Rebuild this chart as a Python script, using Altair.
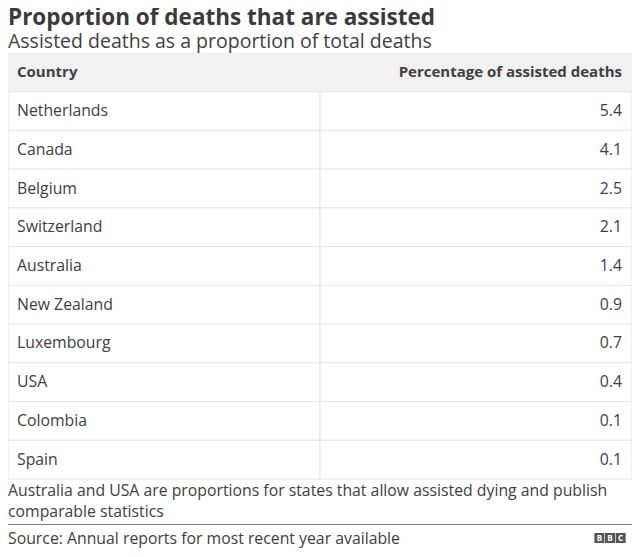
import altair as alt
import pandas as pd

# ---- data ----
countries = ["Netherlands", "Canada", "Belgium", "Switzerland", "Australia",
             "New Zealand", "Luxembourg", "USA", "Colombia", "Spain"]
values = [5.4, 4.1, 2.5, 2.1, 1.4, 0.9, 0.7, 0.4, 0.1, 0.1]
header = ["Country", "Percentage of assisted deaths"]
title_text = "Proportion of deaths that are assisted"
subtitle_text = "Assisted deaths as a proportion of total deaths"
note_lines = ["Australia and USA are proportions for states that allow assisted dying and publish",
              "comparable statistics"]
source_text = "Source: Annual reports for most recent year available"
logo_letters = ["B", "B", "C"]

W, H = 624, 540
FONT = "Open Sans"
TXT = "#404040"
FS = 15.8

HEAD_KEY = "__header__"
rows = [HEAD_KEY] + countries

body = pd.DataFrame({"row": countries, "country": countries, "value": values})
head = pd.DataFrame({"row": [HEAD_KEY], "left": [header[0]], "right": [header[1]]})
allrows = pd.DataFrame({"row": rows, "is_head": [True] + [False] * len(countries)})

yrow = alt.Y("row:N", sort=rows,
             scale=alt.Scale(domain=rows, range=[45, 471], paddingInner=0, paddingOuter=0),
             axis=None)

fill_cond = alt.condition("datum.is_head", alt.value("#f1f1f1"), alt.value("#ffffff"))
stroke_cond = alt.condition("datum.is_head", alt.value("#f1f1f1"), alt.value("#e6e6e6"))

left_cells = alt.Chart(allrows).mark_rect(strokeWidth=1).encode(
    x=alt.value(0), x2=alt.value(312), y=yrow, fill=fill_cond, stroke=stroke_cond)
right_cells = alt.Chart(allrows).mark_rect(strokeWidth=1).encode(
    x=alt.value(312), x2=alt.value(W), y=yrow, fill=fill_cond, stroke=stroke_cond)

head_left = alt.Chart(head).mark_text(align="left", baseline="middle", font=FONT,
                                      fontSize=15, fontWeight="bold", color=TXT).encode(
    x=alt.value(9), y=yrow, text="left:N")
head_right = alt.Chart(head).mark_text(align="right", baseline="middle", font=FONT,
                                       fontSize=15, fontWeight="bold", color=TXT).encode(
    x=alt.value(614), y=yrow, text="right:N")

body_left = alt.Chart(body).mark_text(align="left", baseline="middle", font=FONT,
                                      fontSize=FS, color=TXT).encode(
    x=alt.value(9), y=yrow, text="country:N")
body_right = alt.Chart(body).mark_text(align="right", baseline="middle", font=FONT,
                                       fontSize=FS, color=TXT).encode(
    x=alt.value(614), y=yrow, text=alt.Text("value:Q", format=".1f"))

title = alt.Chart(pd.DataFrame({"t": [title_text]})).mark_text(
    align="left", baseline="alphabetic", font=FONT, fontSize=22.5, fontWeight="bold",
    color="#3a3a3a").encode(x=alt.value(0), y=alt.value(17), text="t:N")
subtitle = alt.Chart(pd.DataFrame({"t": [subtitle_text]})).mark_text(
    align="left", baseline="alphabetic", font=FONT, fontSize=19.5, color=TXT).encode(
    x=alt.value(0), y=alt.value(40), text="t:N")

note1 = alt.Chart(pd.DataFrame({"t": [note_lines[0]]})).mark_text(
    align="left", baseline="middle", font=FONT, fontSize=FS, color=TXT).encode(
    x=alt.value(0), y=alt.value(483), text="t:N")
note2 = alt.Chart(pd.DataFrame({"t": [note_lines[1]]})).mark_text(
    align="left", baseline="middle", font=FONT, fontSize=FS, color=TXT).encode(
    x=alt.value(0), y=alt.value(504), text="t:N")

sep = alt.Chart(pd.DataFrame({"a": [0]})).mark_rule(color="#7a7a7a", strokeWidth=1).encode(
    x=alt.value(0), x2=alt.value(W), y=alt.value(516.5))

source = alt.Chart(pd.DataFrame({"t": [source_text]})).mark_text(
    align="left", baseline="middle", font=FONT, fontSize=FS, color=TXT).encode(
    x=alt.value(0), y=alt.value(530.5), text="t:N")

logo_df = pd.DataFrame({"i": [0, 1, 2], "l": logo_letters})
logo_x = alt.X("i:O", scale=alt.Scale(type="point", domain=[0, 1, 2], range=[586, 618]), axis=None)
logo_sq = alt.Chart(logo_df).mark_square(size=100, color="#555555", opacity=1).encode(
    x=logo_x, y=alt.value(530))
logo_txt = alt.Chart(logo_df).mark_text(font=FONT, fontSize=8, fontWeight="bold",
                                        color="#ffffff", baseline="middle", align="center").encode(
    x=logo_x, y=alt.value(530.5), text="l:N")

chart = alt.layer(left_cells, right_cells, head_left, head_right, body_left, body_right,
                  title, subtitle, note1, note2, sep, source, logo_sq, logo_txt).properties(
    width=W, height=H, padding=0, autosize=alt.AutoSizeParams(type="none"),
    background="#ffffff"
).configure_view(strokeWidth=0)

chart.save("out.html", embed_options={"renderer": "svg", "actions": False})
